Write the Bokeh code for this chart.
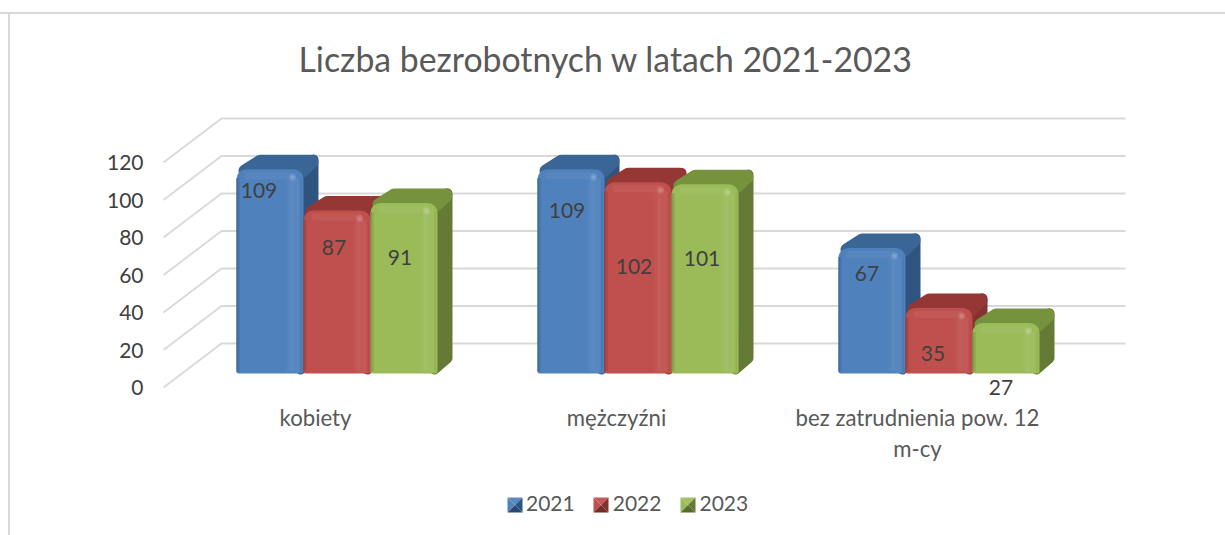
from bokeh.embed import file_html
from bokeh.resources import INLINE
from bokeh.plotting import figure
from bokeh.core.properties import value
from bokeh.models import (Range1d, LinearAxis, FixedTicker, Legend, LegendItem)

TITLE = "Liczba bezrobotnych w latach 2021-2023"
categories = ["kobiety", "mężczyźni", "bez zatrudnienia pow. 12\nm-cy"]
years = ["2021", "2022", "2023"]
v2021 = [109, 109, 67]
v2022 = [87, 102, 35]
v2023 = [91, 101, 27]
y_ticks = [0, 20, 40, 60, 80, 100, 120]

base_cols = ["#4F81BD", "#C0504D", "#9BBB59"]
top_cols = ["#3A6695", "#953735", "#76923C"]
side_cols = ["#2F547F", "#843230", "#647A35"]
# label placement relative to bar (px right of bar centre, px below bar top)
label_dx = [[-11, -4, -5], [-3, -4, -6], [-4, -3, -5]]
label_dy = [[21, 41, 26], [37, 84, 46], [55, 74, 65]]

W, H = 1225, 535
PXX = 301.0      # px per category
PXY = 1.875      # px per unit
X0, Y0 = 315.0, 387.0   # page px of category 0 / value 0 (front wall)
FR_TOP = 90

def dx(px): return px / PXX
def dy(px): return px / PXY
def X(px): return (px - X0) / PXX
def Y(py): return (Y0 - py) / PXY

def hex2(c): return tuple(int(c[i:i+2], 16) for i in (1, 3, 5))
def mix(c, t, f):
    a, b = hex2(c), hex2(t)
    return "#%02X%02X%02X" % tuple(round(a[i] + (b[i] - a[i]) * f) for i in range(3))

p = figure(width=W, height=H, output_backend="svg", toolbar_location=None,
           x_range=Range1d(X(0), X(W)), y_range=Range1d(Y(H), Y(FR_TOP)),
           min_border_left=0, min_border_right=0, min_border_bottom=0,
           min_border_top=FR_TOP, x_axis_type=None, y_axis_type=None,
           title=TITLE)
p.grid.visible = False
p.outline_line_color = None
p.background_fill_alpha = 0
p.border_fill_alpha = 0
# chart-area frame: top and left rules behind the transparent canvas
p.styles = {
    "background-image": "linear-gradient(#D9D9D9,#D9D9D9),linear-gradient(#D9D9D9,#D9D9D9)",
    "background-size": "100% 2px,2px 100%",
    "background-position": "0 12px,8px 12px",
    "background-repeat": "no-repeat",
}
p.title.align = "left"
p.title.offset = 298
p.title.text_font = "Lato"
p.title.text_font_size = "33.8px"
p.title.text_font_style = "normal"
p.title.text_color = "#595959"
p.title.standoff = 24

# walls
wall_l, wall_b, wall_r = X(163), X(221), X(1125)
wall_d = dy(44)
p.multi_line(xs=[[wall_l, wall_b, wall_r] for _ in y_ticks],
             ys=[[t, t + wall_d, t + wall_d] for t in y_ticks],
             line_color="#D9D9D9", line_width=1.8)

yax = LinearAxis(fixed_location=wall_l, ticker=FixedTicker(ticks=y_ticks),
                 axis_line_color=None, major_tick_line_color=None, minor_tick_line_color=None,
                 major_label_standoff=14, major_label_text_font="Lato",
                 major_label_text_font_size="21px", major_label_text_color="#404040")
p.add_layout(yax, "left")

# category labels, one axis per text line so the line spacing can follow the picture
LINE_GAP = 31
for n in range(2):
    lines = {i: c.split("\n")[n] for i, c in enumerate(categories) if len(c.split("\n")) > n}
    xax = LinearAxis(fixed_location=Y(391 + n * LINE_GAP), ticker=FixedTicker(ticks=list(lines)),
                     major_label_overrides=lines,
                     axis_line_color=None, major_tick_line_color=None, minor_tick_line_color=None,
                     major_label_standoff=6, major_label_text_font="Lato",
                     major_label_text_font_size="22.2px", major_label_text_color="#595959")
    p.add_layout(xax, "below")

# bars
BAR = 67
base = dy(14)
DX, DY = 15, 14.5
series = [v2021, v2022, v2023]
legend_items = []
for s, vals in enumerate(series):
    col = base_cols[s]
    ls = [c + dx(-79 + s * BAR) for c in range(3)]
    rs = [l + dx(BAR) for l in ls]
    cs = [(a + b) / 2 for a, b in zip(ls, rs)]
    tops = [base + v for v in vals]
    # rounded depth faces
    ins = 7
    p.patches(xs=[[r - dx(12), r + dx(DX - 5), r + dx(DX - 5), r - dx(3)] for r in rs],
              ys=[[t - dy(4), t + dy(DY - 5), base + dy(15.3), base + dy(4)] for t in tops],
              fill_color=side_cols[s], line_color=side_cols[s], line_width=10, line_join="round")
    p.patches(xs=[[l + dx(ins + 2), l + dx(DX + 9), r + dx(DX - ins), r - dx(2)] for l, r in zip(ls, rs)],
              ys=[[t - dy(2), t + dy(DY - ins), t + dy(DY - ins), t - dy(2)] for t in tops],
              fill_color=top_cols[s], line_color=top_cols[s], line_width=ins * 2, line_join="round")
    # front
    p.vbar(x=cs, width=dx(BAR), bottom=base, top=tops, fill_color=col, line_color=None,
           border_radius=(10, 10, 2, 2))
    # horizontal shading, (inset from left, inset from right, colour)
    bands = [(0, BAR - 1, mix(col, "#000000", 0.28)), (1, BAR - 2, mix(col, "#000000", 0.18)),
             (2, BAR - 3.5, mix(col, "#000000", 0.08)),
             (BAR - 17, 5, mix(col, "#FFFFFF", 0.03)), (BAR - 14, 6, mix(col, "#FFFFFF", 0.07)),
             (BAR - 10, 4, mix(col, "#FFFFFF", 0.05)), (BAR - 3, 1.5, mix(col, "#000000", 0.05))]
    for a, b, c2 in bands:
        p.quad(left=[l + dx(a) for l in ls], right=[r - dx(b) for r in rs],
               bottom=[base + dy(2)] * 3, top=[t - dy(9) for t in tops],
               fill_color=c2, line_color=None)
    # top bevel
    p.vbar(x=cs, width=dx(BAR - 16), bottom=[t - dy(10) for t in tops], top=[t - dy(3) for t in tops],
           fill_color=mix(col, "#FFFFFF", 0.05), line_color=None, border_radius=3)
    p.scatter(x=[r - dx(11) for r in rs], y=[t - dy(8) for t in tops], size=7,
              fill_color=mix(col, "#FFFFFF", 0.2), line_color=None, fill_alpha=0.8)
    p.scatter(x=[r - dx(11) for r in rs], y=[t - dy(8) for t in tops], size=3,
              fill_color=mix(col, "#FFFFFF", 0.3), line_color=None)
    # value labels
    p.text(x=[c + dx(d) for c, d in zip(cs, label_dx[s])],
           y=[t - dy(d) for t, d in zip(tops, label_dy[s])],
           text=[str(v) for v in vals], text_font=value("Lato"), text_font_size="21px",
           text_color="#404040", text_align="center", text_baseline="middle")
    # legend key: drawn transparent, the pyramid faces below show through
    key = p.vbar(x=[], width=1, top=[], bottom=[], fill_color=col, fill_alpha=0, line_color=None)
    legend_items.append(LegendItem(label=years[s], renderers=[key]))

legend = Legend(items=legend_items, orientation="horizontal", location=(507, 20),
                padding=0, margin=0, spacing=19, label_standoff=4, glyph_width=15, glyph_height=15,
                background_fill_alpha=0, border_line_color=None,
                label_text_font="Lato", label_text_font_size="21px", label_text_color="#595959")
p.add_layout(legend, "center")

# pyramid-shaded legend swatches
for s, px in enumerate([507, 593, 680]):
    x0, x1, xm = X(px), X(px + 15), X(px + 7.5)
    yt, yb, ym = Y(497), Y(512), Y(504.5)
    faces = [([x0, x1, xm], [yt, yt, ym], mix(base_cols[s], "#FFFFFF", 0.06)),
             ([x0, xm, x0], [yt, ym, yb], base_cols[s]),
             ([x1, x1, xm], [yt, yb, ym], side_cols[s]),
             ([x0, x1, xm], [yb, yb, ym], mix(side_cols[s], "#000000", 0.12))]
    for fx, fy, fc in faces:
        p.patch(fx, fy, fill_color=fc, line_color=None)

open("out.html", "w").write(file_html(p, INLINE))
